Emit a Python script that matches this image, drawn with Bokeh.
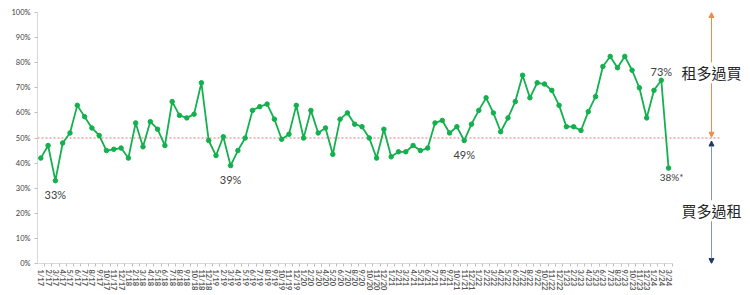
from bokeh.plotting import figure
from bokeh.models import (Range1d, FixedTicker, NumeralTickFormatter, Arrow,
                          NormalHead, Label, ColumnDataSource)
from bokeh.core.properties import value
from bokeh.embed import file_html
from bokeh.resources import INLINE

# ---- data ----
months = [f"{m}/{y}" for y in range(17, 25) for m in range(1, 13)][:87]
share = [42, 47, 33, 48, 52, 63, 58.5, 54, 51, 45, 45.5, 46,
         42, 56, 46.5, 56.5, 53.5, 47, 64.5, 59, 58, 59.5, 72, 49,
         43, 50.5, 39, 45, 50, 61, 62.5, 63.5, 57.5, 49.5, 51.5, 63,
         50, 61, 52, 54, 43.5, 57.5, 60, 55.5, 54.5, 50, 42, 53.5,
         42.5, 44.5, 44.5, 47, 45, 46, 56, 57, 52, 54.5, 49, 55.5,
         61, 66, 60, 52.5, 58, 64.5, 75, 66, 72, 71.5, 69, 63,
         54.5, 54.5, 53, 60.5, 66.5, 78.5, 82.5, 78, 82.5, 77, 70, 58,
         69, 73, 38]
threshold = 0.5
ann_idx = [2, 26, 58, 85, 86]
ann_text = ["33%", "39%", "49%", "73%", "38%*"]
y_ticks = [i / 10 for i in range(11)]
top_text = "租多過買"
bottom_text = "買多過租"

# ---- styles / layout ----
ann_dy = [13.5, 14, 14, -9, 8.5]
ann_dx = [0, 0, 0, 0, 3]
ann_size = ["11px", "11px", "11px", "11px", "10px"]
GREEN = "#13B04E"
ORANGE = "#F08C4A"
NAVY = "#1F3864"
GRAY_TXT = "#404040"
FONT = "Lato"

k = 7.3                      # px per category
x0 = -0.45
x_end = x0 + 713 / k
arrow_x = (711 - 37) / k + x0
ref_end = (720 - 37) / k + x0

p = figure(width=750, height=295, x_range=Range1d(x0, x_end), y_range=Range1d(0, 1),
           output_backend="svg", toolbar_location=None,
           min_border_left=37, min_border_right=0, min_border_top=12, min_border_bottom=32)
p.outline_line_color = None
p.xgrid.visible = False
p.ygrid.visible = False
p.background_fill_color = "white"

xs = list(range(len(share)))
ys = [v / 100 for v in share]

# reference line at 50%
p.segment(x0=[x0], y0=[threshold], x1=[ref_end], y1=[threshold],
          line_color="#E57373", line_dash="2 2", line_width=1)

src = ColumnDataSource(dict(x=xs, y=ys))
p.line("x", "y", source=src, line_color=GREEN, line_width=1.8)
p.scatter("x", "y", source=src, marker="circle", size=4.5,
          fill_color=GREEN, line_color=GREEN)

# data labels
asrc = ColumnDataSource(dict(x=[xs[i] for i in ann_idx], y=[ys[i] for i in ann_idx],
                             t=ann_text, dy=ann_dy, dx=ann_dx, fs=ann_size))
p.text("x", "y", text="t", source=asrc, x_offset="dx", y_offset="dy",
       text_align="center", text_baseline="middle", text_font=value(FONT),
       text_font_size="fs", text_color="#404040")

# arrows
p.add_layout(Arrow(start=NormalHead(size=5, fill_color=ORANGE, line_color=ORANGE),
                   end=NormalHead(size=5, fill_color=ORANGE, line_color=ORANGE),
                   x_start=arrow_x, y_start=threshold + 0.003, x_end=arrow_x, y_end=1.0,
                   line_color=ORANGE, line_width=1))
p.add_layout(Arrow(start=NormalHead(size=5, fill_color=NAVY, line_color=NAVY),
                   end=NormalHead(size=5, fill_color=NAVY, line_color=NAVY),
                   x_start=arrow_x, y_start=threshold - 0.012, x_end=arrow_x, y_end=0.0,
                   line_color="#8497B0", line_width=1))
for txt, yv in [(top_text, 0.76), (bottom_text, 0.21)]:
    p.add_layout(Label(x=arrow_x, y=yv, text=txt, text_align="center",
                       text_baseline="middle", text_font="Noto Sans CJK TC",
                       text_font_size="15px", text_color="#262626",
                       background_fill_color="white"))

# axes
xa = p.xaxis[0]
xa.ticker = FixedTicker(ticks=xs, minor_ticks=[i - 0.5 for i in range(len(xs) + 1)])
xa.major_label_overrides = {i: m for i, m in enumerate(months)}
xa.major_label_orientation = "vertical"
xa.major_tick_out = 0
xa.major_tick_in = 0
xa.minor_tick_out = 3
xa.minor_tick_in = 0
xa.minor_tick_line_color = "#BFBFBF"
xa.axis_line_color = "#D9D9D9"
xa.bounds = (x0, len(xs) - 0.5)
xa.major_label_text_font = FONT
xa.major_label_text_font_size = "7.5px"
xa.major_label_text_font_style = "bold"
xa.major_label_text_color = "#595959"
xa.major_label_standoff = 3

ya = p.yaxis[0]
ya.ticker = FixedTicker(ticks=y_ticks)
ya.formatter = NumeralTickFormatter(format="0%")
ya.major_tick_out = 3
ya.major_tick_in = 0
ya.minor_tick_out = 0
ya.minor_tick_in = 0
ya.major_tick_line_color = "#BFBFBF"
ya.axis_line_color = "#D9D9D9"
ya.major_label_text_font = FONT
ya.major_label_text_font_size = "7.5px"
ya.major_label_text_color = GRAY_TXT
ya.major_label_standoff = 4

open("out.html", "w").write(file_html(p, INLINE))
